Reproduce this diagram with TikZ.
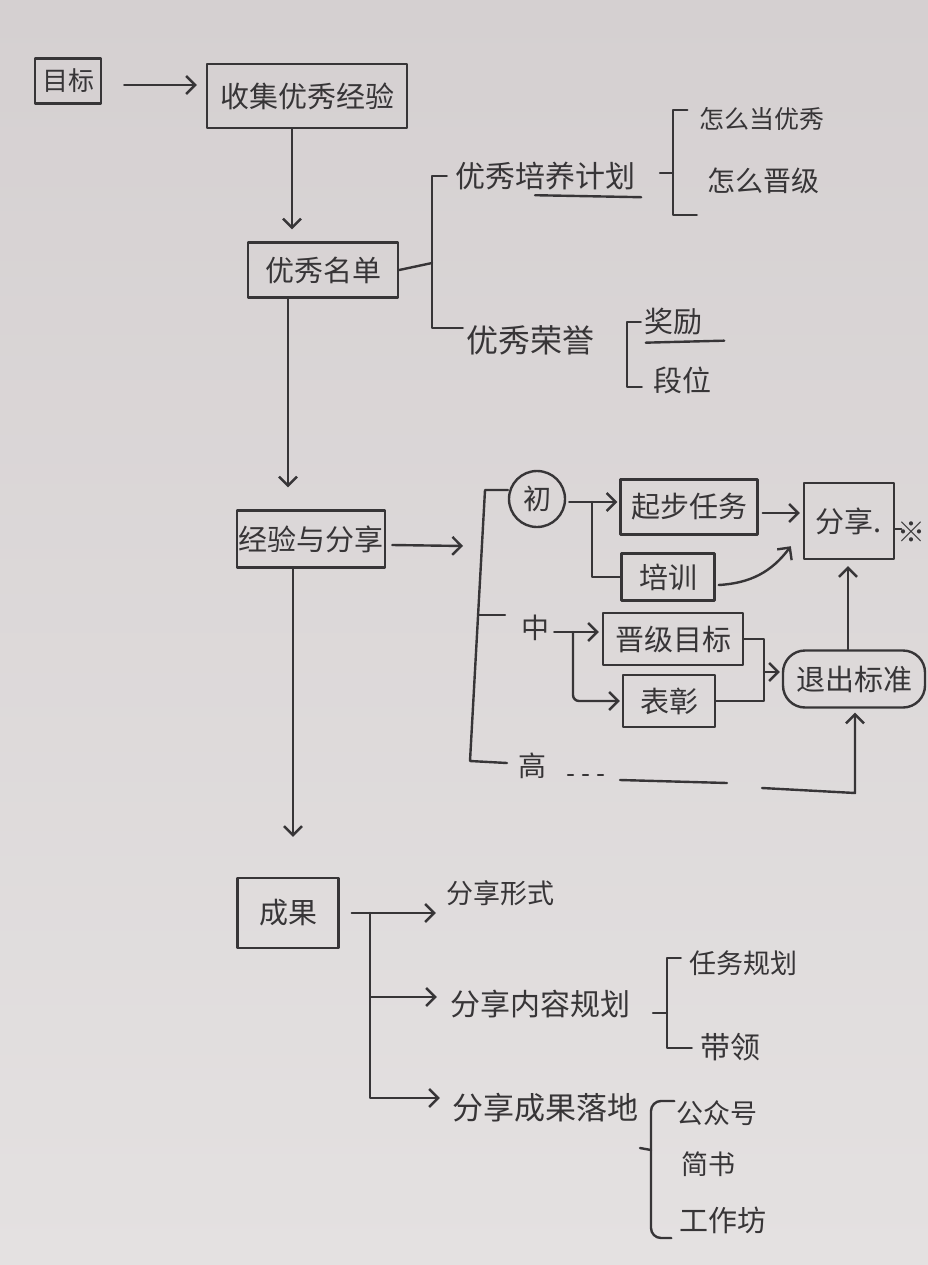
\documentclass[tikz,border=0pt]{standalone}
\usepackage{fontspec}
\newfontfamily\cjk{Noto Sans CJK SC}
\usetikzlibrary{arrows.meta,calc}
\definecolor{paperTop}{RGB}{213,208,209}
\definecolor{paperBot}{RGB}{228,225,225}
\definecolor{ink}{RGB}{55,53,55}
\newcommand\fsz[1]{\fontsize{#1}{#1}\selectfont}
\tikzset{
  ln/.style={draw=ink, line width=2.4pt, line cap=round, line join=round},
  arr/.style={ln, -{Straight Barb[length=9pt,width=18pt,line width=2.4pt]}},
  bx/.style={ln, rectangle, inner sep=0pt, font=\cjk\fsz{29}, text=ink},
  lbl/.style={inner sep=0pt, font=\cjk\fsz{30}, text=ink},
  sm/.style={inner sep=0pt, font=\cjk\fsz{27}, text=ink},
}
\begin{document}
\begin{tikzpicture}[x=1pt,y=-1pt]
\shade[top color=paperTop,bottom color=paperBot] (0,0) rectangle (928,1265);
\useasboundingbox (0,0) rectangle (928,1265);

% ---------- nodes ----------
\node[bx, font=\cjk\fsz{26}, minimum width=66, minimum height=45] (goal) at (68,81) {目标};
\node[bx, minimum width=200, minimum height=64] (collect) at (307,96) {收集优秀经验};
\node[bx, minimum width=150, minimum height=55] (list) at (323,270) {优秀名单};
\node[lbl] (plan) at (545,176) {优秀培养计划};
\node[sm, font=\cjk\fsz{25}] (how1) at (762,119) {怎么当优秀};
\node[sm, font=\cjk\fsz{28}] (how2) at (763,181) {怎么晋级};
\node[lbl, font=\cjk\fsz{32}] (honor) at (530,340) {优秀荣誉};
\node[sm, font=\cjk\fsz{29}] (reward) at (673,322) {奖励};
\node[sm, font=\cjk\fsz{29}] (rank) at (682,380) {段位};

\node[bx, minimum width=148, minimum height=57] (exp) at (311,539) {经验与分享};
\node[ln, circle, minimum size=56, inner sep=0pt, font=\cjk\fsz{28}, text=ink] (chu) at (537,499) {初};
\node[bx, minimum width=137, minimum height=55] (start) at (689,507) {起步任务};
\node[bx, minimum width=93, minimum height=47] (train) at (668,577) {培训};
\node[bx, minimum width=90, minimum height=76] (share) at (849,521) {分享.};
\node[sm, font=\cjk\fsz{28}] (star) at (911,532) {※};
\node[lbl, font=\cjk\fsz{28}] (zhong) at (535,628) {中};
\node[bx, minimum width=140, minimum height=52] (promo) at (673,639) {晋级目标};
\node[bx, minimum width=92, minimum height=52] (praise) at (669,701) {表彰};
\node[bx, rounded corners=22pt, minimum width=142, minimum height=57] (exit) at (854,679) {退出标准};
\node[lbl, font=\cjk\fsz{28}] (gao) at (532,766) {高};

\node[bx, minimum width=101, minimum height=70] (result) at (288,913) {成果};
\node[sm] (form) at (500,893) {分享形式};
\node[lbl] (content) at (540,1004) {分享内容规划};
\node[sm] (task) at (743,963) {任务规划};
\node[sm, font=\cjk\fsz{30}] (lead) at (730,1047) {带领};
\node[lbl, font=\cjk\fsz{31}] (land) at (545,1108) {分享成果落地};
\node[sm] (wechat) at (717,1113) {公众号};
\node[sm] (jianshu) at (708,1164) {简书};
\node[sm, font=\cjk\fsz{29}] (workshop) at (723,1220) {工作坊};

% ---------- top part ----------
\draw[arr] ([xshift=22pt,yshift=-4pt]goal.east) -- ([xshift=-9pt,yshift=-4pt]goal.east -| collect.west);
\draw[arr] ([xshift=-15pt]collect.south) -- ([xshift=-15pt,yshift=12pt]collect.south |- list.north);

\coordinate (b1) at (432,263);
\draw[ln] (list.east) -- (b1);
\draw[ln] ([xshift=-8pt]plan.west) -- (plan.west -| b1) -- ([yshift=12pt]honor.west -| b1) -- ([xshift=-3pt,yshift=12pt]honor.west);
\draw[ln] ($(plan.south)+(-10,5)$) -- ($(plan.south east)+(6,7)$);

\coordinate (b2) at (673,173);
\draw[ln] ([xshift=-12pt,yshift=9pt]how1.west) -- ([yshift=9pt]how1.west -| b2) -- ([yshift=-34pt]how2.west -| b2) -- ([xshift=-10pt,yshift=-34pt]how2.west);
\draw[ln] (b2) -- ++(-13,0);

\coordinate (b3) at (627,346);
\draw[ln] ([xshift=-3pt]reward.west) -- (reward.west -| b3) -- ([yshift=-7pt]rank.west -| b3) -- ([xshift=-11pt,yshift=-7pt]rank.west);
\draw[ln] ($(reward.south west)+(2,7)$) -- ($(reward.south east)+(22,5)$);

\draw[arr] ([xshift=-35pt]list.south) -- ([xshift=-35pt,yshift=22pt]list.south |- exp.north);

% ---------- middle part ----------
\coordinate (B) at (485,490);
\coordinate (Bm) at (479,615);
\coordinate (Bb) at (470,761);
\draw[arr] ([xshift=6pt,yshift=-6pt]exp.east) -- ([xshift=-22pt,yshift=-7pt]exp.east -| B);
\draw[ln] (chu.west |- B) -- (B) -- (Bb) -- ++(37,2);
\draw[ln] (Bm) -- ++(26,0);

\draw[arr] ([xshift=3pt,yshift=-3pt]chu.east) -- ([xshift=-2pt,yshift=-3pt]chu.east -| start.west);
\coordinate (c1) at (592,502);
\draw[ln] (c1) -- (c1 |- train.west) -- (train.west);
\draw[arr] ([xshift=4pt,yshift=-6pt]start.east) -- ([xshift=-3pt,yshift=-6pt]start.east -| share.west);
\draw[arr] ([xshift=3pt,yshift=-8pt]train.east) to[bend right=25] ([xshift=-12pt,yshift=14pt]share.south west);
\draw[ln] ([yshift=-8pt]share.east) -- ++(6,0);

\draw[arr] ([xshift=5pt,yshift=-4pt]zhong.east) -- ([xshift=-3pt,yshift=-4pt]zhong.east -| promo.west);
\coordinate (c2) at (573,632);
\draw[arr, rounded corners=6pt] (c2) -- (c2 |- praise.west) -- ([xshift=-2pt]praise.west);

\coordinate (c3) at (764,672);
\draw[ln] (promo.east) -- (promo.east -| c3) -- (praise.east -| c3) -- (praise.east);
\draw[arr] (c3) -- ([xshift=-2pt]c3 -| exit.west);
\draw[arr] ([xshift=-6pt]exit.north) -- ([xshift=-6pt,yshift=-6pt]exit.north |- share.south);

\coordinate (d0) at (568,775);
\coordinate (d1) at (620,780);
\coordinate (d2) at (727,783);
\coordinate (d3) at (762,788);
\coordinate (e1) at (855,793);
\draw[ln, dash pattern=on 5pt off 10pt] (d0) -- ++(36,0);
\draw[ln] (d1) -- (d2);
\draw[arr] (d3) -- (e1) -- ([yshift=-4pt]e1 |- exit.south);

\draw[arr] ([xshift=-18pt]exp.south) -- ([xshift=-18pt,yshift=40pt]exp.south |- result.north);

% ---------- bottom part ----------
\draw[arr] ([xshift=12pt]result.east) -- ([xshift=-10pt]result.east -| form.west);
\coordinate (c4) at (370,913);
\draw[arr] (c4) |- ([xshift=-13pt,yshift=7pt]content.west);
\draw[arr] (c4) |- ([xshift=-12pt,yshift=10pt]land.west);

\coordinate (b4) at (667,1013);
\draw[ln] ([xshift=-8pt,yshift=5pt]task.west) -- ([yshift=5pt]task.west -| b4) -- ([yshift=-1pt]lead.west -| b4) -- ([xshift=-8pt,yshift=-1pt]lead.west);
\draw[ln] (b4) -- ++(-14,0);

\coordinate (b5) at (651,1150);
\draw[ln, rounded corners=10pt] ([xshift=-2pt,yshift=12pt]wechat.west) -- ([yshift=12pt]wechat.west -| b5) -- ([yshift=-18pt]workshop.west -| b5) -- ([xshift=-8pt,yshift=-18pt]workshop.west);
\draw[ln] (b5) -- ++(-11,-2);
\end{tikzpicture}
\end{document}
